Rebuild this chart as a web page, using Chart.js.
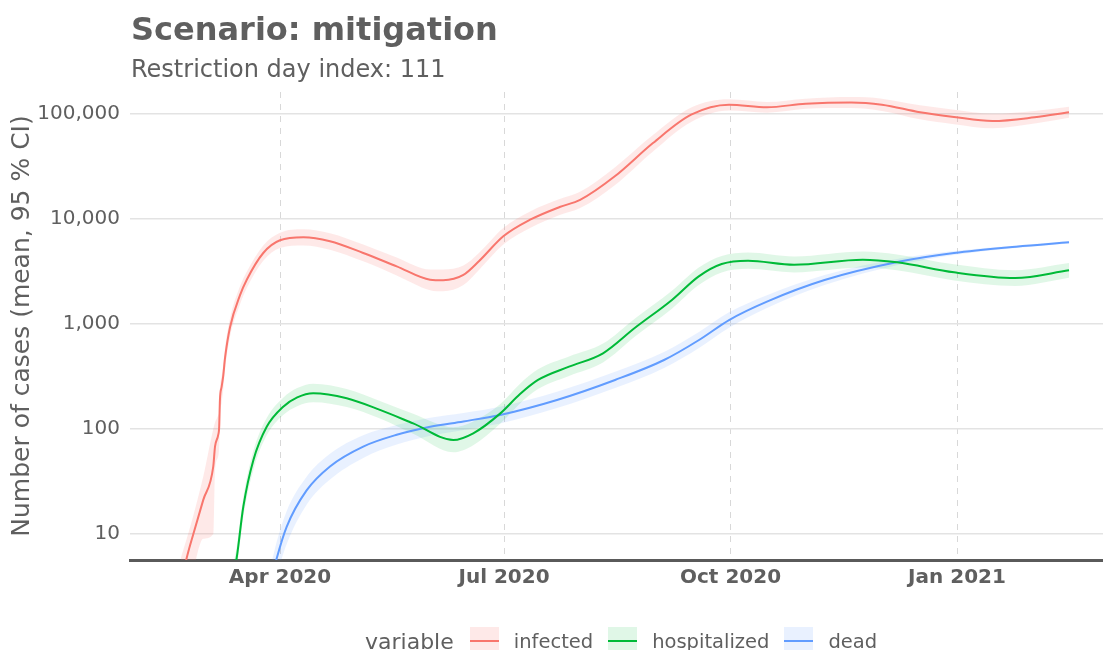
<!DOCTYPE html>
<html>
<head>
<meta charset="utf-8">
<script src="https://cdn.jsdelivr.net/npm/chart.js@4.4.0/dist/chart.umd.min.js"></script>
<style>
  html, body { margin: 0; padding: 0; background: #fff; }
  body { width: 1103px; height: 650px; position: relative; overflow: hidden;
         font-family: "DejaVu Sans", sans-serif; color: #5f5f5f; }
  #c { position: absolute; left: 0; top: 0; }
  .title { position: absolute; left: 131px; top: 13px; font-size: 32px; font-weight: bold;
           line-height: 32px; white-space: nowrap; }
  .subtitle { position: absolute; left: 131px; top: 57px; font-size: 24px; line-height: 24px;
              white-space: nowrap; }
  .legend { position: absolute; left: 365px; top: 626px; height: 30px; display: flex;
            align-items: center; white-space: nowrap; }
  .legend .ttl { font-size: 22px; margin-right: 16px; }
  .legend .key { width: 29px; height: 29px; position: relative; margin-right: 15px; }
  .legend .key i { position: absolute; left: 0; right: 0; top: 13px; height: 2px; }
  .legend .lab { font-size: 19.5px; margin-right: 15px; }
</style>
</head>
<body>
<canvas id="c" width="1103" height="650"></canvas>
<div class="title">Scenario: mitigation</div>
<div class="subtitle">Restriction day index: 111</div>
<div class="legend" id="legend"></div>

<script>
// x = days since 2020-01-01
const tickDays = [91, 182, 274, 366];
const tickLabels = ["Apr 2020", "Jul 2020", "Oct 2020", "Jan 2021"];
const yTicks = [10, 100, 1000, 10000, 100000];
const yTickLabels = ["10", "100", "1,000", "10,000", "100,000"];

const seriesNames = ["infected", "hospitalized", "dead"];
const seriesColors = ["#F8766D", "#00BA38", "#619CFF"];
const bandColors = ["rgba(248,118,109,0.16)", "rgba(0,186,56,0.12)", "rgba(97,156,255,0.14)"];

// infected
const infDays = [50.8, 53.1, 55.8, 59.8, 63.9, 64.6, 65.9, 66.3, 66.6, 67.3, 67.9, 68.7, 70.7, 74.8, 77.5, 84.2, 91, 100.5, 111.3, 124.8, 138.4, 152, 157.3, 165.5, 172, 181.7, 192.6, 204.6, 212.9, 227, 242.5, 258, 273.4, 288.8, 304.5, 323, 335.5, 351, 364.8, 380.4, 397.5, 411.5];
const infMean = [3.3, 5.9, 10, 21, 44, 68, 88, 105, 189, 253, 315, 480, 930, 1890, 2640, 4745, 6270, 6700, 6140, 4745, 3540, 2643, 2610, 2930, 4000, 6840, 9840, 13000, 15200, 25500, 52900, 98500, 122600, 116000, 125300, 129000, 122600, 103800, 93600, 85800, 93000, 103800];
const infLow  = [1.5, 2.5, 4.5, 9, 10, 40, 55, 70, 130, 180, 230, 370, 760, 1550, 2200, 4000, 5300, 5600, 5100, 3950, 2900, 2100, 2050, 2350, 3300, 5700, 8200, 10900, 12700, 21000, 44000, 84000, 108000, 103000, 112000, 114000, 107000, 89000, 80000, 73000, 81000, 92000];
const infHigh = [6, 9, 15, 35, 100, 115, 135, 150, 240, 320, 400, 600, 1130, 2300, 3150, 5600, 7400, 8000, 7300, 5700, 4300, 3300, 3300, 3600, 4800, 8200, 11800, 15500, 18200, 31000, 63000, 115000, 138000, 130000, 140000, 145000, 140000, 121000, 110000, 101000, 107000, 117000];

// hospitalized
const hosDays = [71.5, 73.4, 76.1, 80.2, 85.6, 92.3, 98, 104.5, 118.1, 131.6, 145.1, 161.4, 169.5, 180.4, 188.5, 195.8, 208.4, 222.2, 235.2, 250.2, 261.1, 270.4, 281.1, 299.8, 327.7, 341.6, 364.8, 389.6, 411.5];
const hosMean = [3.5, 5.9, 18.2, 50.7, 105, 163, 200, 219, 196, 152, 113, 78.5, 91, 140, 215, 293, 392, 526, 920, 1695, 2844, 3727, 4006, 3670, 4096, 3870, 3106, 2741, 3245];
const hosLow  = [2.6, 4.6, 14.5, 41, 87, 136, 165, 180, 162, 126, 90, 60, 70, 112, 175, 240, 320, 430, 760, 1400, 2350, 3100, 3350, 3100, 3450, 3250, 2600, 2300, 2750];
const hosHigh = [4.5, 7.5, 22.5, 62, 127, 198, 245, 270, 240, 185, 140, 104, 118, 172, 270, 370, 490, 650, 1130, 2070, 3450, 4450, 4800, 4400, 4900, 4600, 3700, 3250, 3800];

// dead
const dedDays = [87.7, 89.7, 93.7, 101.8, 111.3, 124.8, 138.4, 152, 165.5, 180.4, 203.5, 227.1, 247, 261.2, 273.4, 288.8, 312.2, 343.3, 364.8, 390, 411.5];
const dedMean = [3.8, 5.9, 11.7, 26, 44, 68, 88, 105, 118, 136, 189, 293, 454, 704, 1091, 1634, 2623, 3955, 4745, 5450, 5995];
const dedLow  = [2.5, 4, 8, 19, 33, 53, 71, 86, 98, 113, 158, 245, 380, 590, 920, 1420, 2350, 3700, 4550, 5300, 5850];
const dedHigh = [5.5, 8.5, 16.5, 35, 58, 87, 109, 128, 142, 163, 226, 350, 540, 840, 1290, 1880, 2930, 4230, 4950, 5600, 6150];

const TEXT = "#5f5f5f";

function pts(days, vals) {
  return days.map((d, i) => ({ x: d, y: vals[i] }));
}

// ribbons first (upper, lower filled to upper), lines after
const series = [
  [infDays, infMean, infLow, infHigh],
  [hosDays, hosMean, hosLow, hosHigh],
  [dedDays, dedMean, dedLow, dedHigh]
];
const datasets = [];
series.forEach(([days, mean, lo, hi], k) => {
  datasets.push({ data: pts(days, hi), borderWidth: 0, pointRadius: 0, fill: false,
                  cubicInterpolationMode: "monotone", order: 2 });
  datasets.push({ data: pts(days, lo), borderWidth: 0, pointRadius: 0, fill: "-1",
                  backgroundColor: bandColors[k], cubicInterpolationMode: "monotone", order: 2 });
});
series.forEach(([days, mean], k) => {
  datasets.push({ label: seriesNames[k], data: pts(days, mean), borderColor: seriesColors[k],
                  borderWidth: 2, pointRadius: 0, fill: false,
                  cubicInterpolationMode: "monotone", order: 0 });
});

new Chart(document.getElementById("c"), {
  type: "line",
  data: { datasets },
  options: {
    responsive: false,
    animation: false,
    layout: { padding: { top: 92, right: 0, bottom: 0, left: 0 } },
    plugins: { legend: { display: false }, tooltip: { enabled: false } },
    scales: {
      x: {
        type: "linear", min: 30.07, max: 425.3,
        afterBuildTicks: s => { s.ticks = tickDays.map(v => ({ value: v })); },
        afterFit: s => { s.height = 90; },
        ticks: {
          autoSkip: false, maxRotation: 0, padding: 6, color: TEXT,
          font: { family: "DejaVu Sans", size: 20, weight: "bold" },
          callback: (v, i) => tickLabels[i]
        },
        grid: { color: "#d8d8d8", lineWidth: 1, drawTicks: false },
        border: { display: true, color: "#5a5a5a", width: 3, dash: [6, 6] }
      },
      y: {
        type: "logarithmic", min: 5.65, max: 162000,
        afterBuildTicks: s => { s.ticks = yTicks.map(v => ({ value: v })); },
        afterFit: s => { s.width = 130; },
        ticks: {
          padding: 10, color: TEXT,
          font: { family: "DejaVu Sans", size: 20 },
          callback: (v, i) => yTickLabels[i]
        },
        grid: { color: "#e3e3e3", lineWidth: 1.5, drawTicks: false },
        border: { display: false },
        title: {
          display: true, text: "Number of cases (mean, 95 % CI)", color: TEXT,
          font: { family: "DejaVu Sans", size: 25 }, padding: { top: 7, bottom: 0 }
        }
      }
    }
  }
});

// legend (ggplot style, title inline)
const $legend = document.getElementById("legend");
$legend.innerHTML = `<span class="ttl">variable</span>` + seriesNames.map((n, k) =>
  `<span class="key" style="background:${bandColors[k]}"><i style="background:${seriesColors[k]}"></i></span>` +
  `<span class="lab">${n}</span>`).join("");
</script>
</body>
</html>
